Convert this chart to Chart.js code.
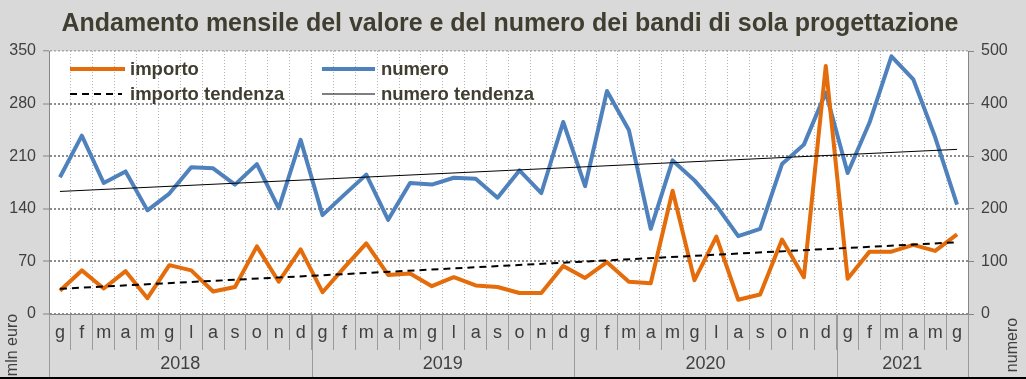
<!DOCTYPE html>
<html>
<head>
<meta charset="utf-8">
<script src="https://cdn.jsdelivr.net/npm/chart.js@4.4.1/dist/chart.umd.min.js"></script>
<style>
    html, body { margin: 0; padding: 0; background: #d9d9d9; }
    #wrap { width: 1026px; height: 379px; }
</style>
</head>
<body>
<div id="wrap"><canvas id="grafico" width="1026" height="379"></canvas></div>
<script>
(function () {
    "use strict";

    // Mesi e anni (asse delle categorie)
    var mesi = ['g', 'f', 'm', 'a', 'm', 'g', 'l', 'a', 's', 'o', 'n', 'd'];
    var anni = ['2018', '2019', '2020', '2021'];
    var mesiPerAnno = [12, 12, 12, 6];

    // Importo in mln euro (asse sinistro)
    var importo = [31, 58, 34, 57, 21, 65, 58, 30, 36, 90, 43, 86,
                   29, 62, 94, 52, 54, 37, 49, 38, 36, 28, 28, 64,
                   48, 69, 43, 41, 164, 45, 103, 19, 26, 99, 49, 330,
                   47, 83, 83, 92, 84, 106];

    // Numero dei bandi (asse destro)
    var numero = [260, 339, 249, 271, 197, 229, 279, 277, 246, 285, 201, 331,
                  188, 227, 265, 179, 249, 246, 259, 257, 221, 273, 230, 365,
                  243, 424, 350, 162, 292, 254, 206, 148, 162, 285, 322, 421,
                  268, 364, 490, 446, 336, 208];

    // Tendenze lineari: valore al primo e all'ultimo mese
    var importoTendenza = [33.5, 95.5];
    var numeroTendenza = [233, 313];

    // Scale: min, max, passo
    var asseImporto = [0, 350, 70];
    var asseNumero = [0, 500, 100];

    // Etichette complete dei mesi
    var etichette = [];
    for (var a = 0; a < anni.length; a++) {
        for (var m = 0; m < mesiPerAnno[a]; m++) {
            etichette.push(mesi[m]);
        }
    }
    var ultimo = etichette.length - 1;

    function tendenza(estremi) {
        return etichette.map(function (l, i) {
            if (i === 0) return estremi[0];
            if (i === ultimo) return estremi[1];
            return null;
        });
    }

    var coloreTesto = '#404040';
    var coloreTitolo = '#403e30';
    var font = "'Liberation Sans', Arial, sans-serif";

    // Sfondo grigio e area del grafico bianca
    var sfondo = {
        id: 'sfondo',
        beforeDraw: function (chart) {
            var ctx = chart.ctx, ar = chart.chartArea;
            ctx.save();
            ctx.fillStyle = '#d9d9d9';
            ctx.fillRect(0, 0, chart.width, chart.height);
            ctx.fillStyle = '#ffffff';
            ctx.fillRect(ar.left, ar.top, ar.right - ar.left, ar.bottom - ar.top);
            ctx.restore();
        }
    };

    // Titolo, legenda, anni, titoli degli assi
    var decorazioni = {
        id: 'decorazioni',
        afterDraw: function (chart) {
            var ctx = chart.ctx, ar = chart.chartArea;
            ctx.save();

            // Titolo (carattere stretto: compressione orizzontale)
            var titolo = 'Andamento mensile del valore e del numero dei bandi di sola progettazione';
            ctx.fillStyle = coloreTitolo;
            ctx.font = 'bold 25px ' + font;
            ctx.textAlign = 'center';
            ctx.textBaseline = 'middle';
            var larg = ctx.measureText(titolo).width;
            ctx.translate(510, 24);
            ctx.scale(897 / larg, 1);
            ctx.fillText(titolo, 0, 0);
            ctx.setTransform(1, 0, 0, 1, 0, 0);

            // Legenda
            var voci = [
                { ds: 0, x: 70, y: 69, w: 55, tx: 130 },
                { ds: 1, x: 322, y: 69, w: 53, tx: 381 },
                { ds: 2, x: 70, y: 94, w: 52, tx: 130 },
                { ds: 3, x: 322, y: 94, w: 53, tx: 381 }
            ];
            voci.forEach(function (v) {
                var d = chart.data.datasets[v.ds];
                ctx.strokeStyle = d.borderColor;
                ctx.lineWidth = d.borderWidth;
                ctx.setLineDash(d.borderDash || []);
                ctx.beginPath();
                ctx.moveTo(v.x, v.y);
                ctx.lineTo(v.x + v.w, v.y);
                ctx.stroke();
                ctx.setLineDash([]);
                ctx.fillStyle = coloreTitolo;
                ctx.font = 'bold 18.5px ' + font;
                ctx.textAlign = 'left';
                ctx.textBaseline = 'middle';
                ctx.fillText(d.label, v.tx, v.y + 1);
            });

            // Separatori e etichette degli anni
            var passo = (ar.right - ar.left) / etichette.length;
            ctx.strokeStyle = '#9a9a9a';
            ctx.lineWidth = 1;
            var inizio = 0;
            ctx.fillStyle = coloreTesto;
            ctx.font = '18px ' + font;
            ctx.textAlign = 'center';
            ctx.textBaseline = 'middle';
            for (var k = 0; k <= anni.length; k++) {
                var px = Math.round(ar.left + passo * inizio) + 0.5;
                ctx.beginPath();
                ctx.moveTo(px, ar.bottom);
                ctx.lineTo(px, chart.height - 2);
                ctx.stroke();
                if (k < anni.length) {
                    var fine = inizio + mesiPerAnno[k];
                    ctx.fillText(anni[k], ar.left + passo * (inizio + fine) / 2, 364);
                    inizio = fine;
                }
            }

            // Titoli degli assi
            ctx.font = '16px ' + font;
            ctx.fillStyle = coloreTesto;
            ctx.translate(13, 345);
            ctx.rotate(-Math.PI / 2);
            ctx.fillText('mln euro', 0, 0);
            ctx.setTransform(1, 0, 0, 1, 0, 0);
            ctx.translate(1013, 345);
            ctx.rotate(-Math.PI / 2);
            ctx.fillText('numero', 0, 0);
            ctx.setTransform(1, 0, 0, 1, 0, 0);

            // Bordo inferiore
            ctx.fillStyle = '#000000';
            ctx.fillRect(0, chart.height - 2, chart.width, 2);
            ctx.restore();
        }
    };

    var ctx1 = document.getElementById('grafico').getContext('2d');
    var grafico = new Chart(ctx1, {
        type: 'line',
        data: {
            labels: etichette,
            datasets: [{
                label: 'importo',
                data: importo,
                yAxisID: 'y',
                borderColor: '#e46c0a',
                borderWidth: 4,
                order: 1
            },
            {
                label: 'numero',
                data: numero,
                yAxisID: 'y2',
                borderColor: '#4f81bd',
                borderWidth: 4,
                order: 2
            },
            {
                label: 'importo tendenza',
                data: tendenza(importoTendenza),
                yAxisID: 'y',
                borderColor: '#000000',
                borderWidth: 2,
                borderDash: [7, 5],
                spanGaps: true,
                order: 0
            },
            {
                label: 'numero tendenza',
                data: tendenza(numeroTendenza),
                yAxisID: 'y2',
                borderColor: '#000000',
                borderWidth: 1,
                spanGaps: true,
                order: 0
            }
            ]
        },
        options: {
            responsive: false,
            animation: false,
            layout: { padding: { top: 51, left: 0, right: 0, bottom: 0 } },
            elements: {
                point: { radius: 0, hoverRadius: 0 },
                line: { tension: 0, borderCapStyle: 'butt', borderJoinStyle: 'round' }
            },
            plugins: {
                legend: { display: false },
                title: { display: false },
                tooltip: { enabled: false }
            },
            scales: {
                x: {
                    offset: true,
                    grid: {
                        offset: true,
                        color: '#b4b4b4',
                        lineWidth: 1,
                        tickColor: '#9a9a9a',
                        tickBorderDash: [],
                        tickLength: 36
                    },
                    border: { color: '#868686', width: 1, dash: [1, 2] },
                    ticks: {
                        autoSkip: false,
                        maxRotation: 0,
                        minRotation: 0,
                        padding: -28,
                        color: coloreTesto,
                        font: { family: font, size: 18 }
                    },
                    afterFit: function (s) { s.height = 65; }
                },
                y: {
                    position: 'left',
                    min: asseImporto[0],
                    max: asseImporto[1],
                    grid: {
                        color: function (c) { return c.tick && c.tick.value === asseImporto[1] ? '#a8a8a8' : '#8c8c8c'; },
                        lineWidth: function (c) { return c.tick && c.tick.value === asseImporto[1] ? 1.5 : 2; },
                        tickColor: '#868686',
                        tickBorderDash: [],
                        tickWidth: 1,
                        tickLength: 6
                    },
                    border: { color: '#868686', width: 1, dash: [2, 2] },
                    ticks: {
                        stepSize: asseImporto[2],
                        padding: 7,
                        color: coloreTesto,
                        font: { family: font, size: 16 }
                    },
                    afterFit: function (s) { s.width = 49; }
                },
                y2: {
                    position: 'right',
                    min: asseNumero[0],
                    max: asseNumero[1],
                    grid: {
                        drawOnChartArea: false,
                        tickColor: '#868686',
                        tickLength: 6
                    },
                    border: { color: '#868686', width: 1 },
                    ticks: {
                        stepSize: asseNumero[2],
                        padding: 7,
                        color: coloreTesto,
                        font: { family: font, size: 16 }
                    },
                    afterFit: function (s) { s.width = 58; }
                }
            }
        },
        plugins: [sfondo, decorazioni]
    });
})();
</script>
</body>
</html>
